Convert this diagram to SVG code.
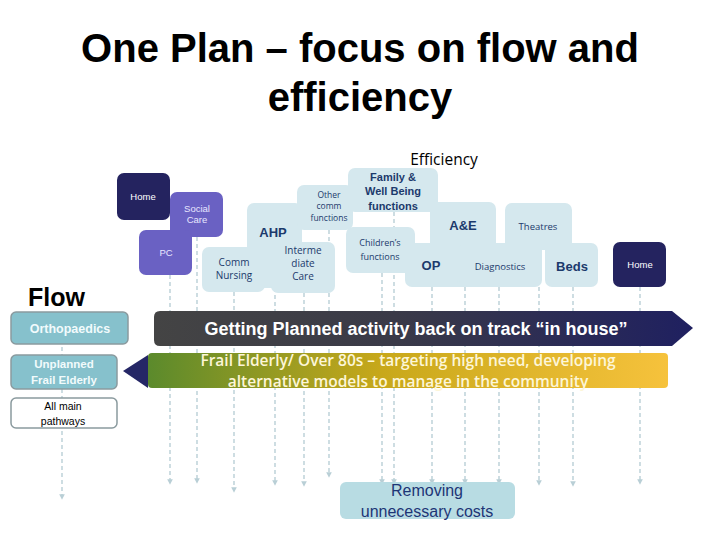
<svg xmlns="http://www.w3.org/2000/svg" width="720" height="540" viewBox="0 0 720 540">
<defs>
<style>
.lb{fill:#d5e8ee}
.dk{fill:#24235f}
.pu{fill:#6a61c3}
.t{font-family:"Liberation Sans",Arial,sans-serif;text-anchor:middle}
.c{font-family:"Open Sans","Liberation Sans",sans-serif;text-anchor:middle}
.nv{fill:#1c3a6c}
.wt{fill:#ffffff}
.fl{stroke:#b9cfd6;stroke-width:1.4;stroke-dasharray:4 3;fill:none;marker-end:url(#m)}
.side{stroke:#8a9a9e;stroke-width:1.5}
</style>
<marker id="m" viewBox="0 0 6 6" refX="3" refY="3" markerWidth="4" markerHeight="4" orient="auto">
<path d="M0,0 L6,3 L0,6 z" fill="#b9cfd6"/>
</marker>
<linearGradient id="g1" x1="0" y1="0" x2="1" y2="0">
<stop offset="0" stop-color="#444444"/>
<stop offset="0.45" stop-color="#3a3a48"/>
<stop offset="1" stop-color="#1f2060"/>
</linearGradient>
<linearGradient id="g2" x1="0" y1="0" x2="1" y2="0">
<stop offset="0" stop-color="#5b8a2c"/>
<stop offset="0.45" stop-color="#c8a81a"/>
<stop offset="1" stop-color="#f6c23c"/>
</linearGradient>
</defs>
<rect width="720" height="540" fill="#ffffff"/>
<text class="t" x="360" y="62" font-size="40" font-weight="bold" fill="#000">One Plan – focus on flow and</text>
<text class="t" x="360" y="111" font-size="40" font-weight="bold" fill="#000">efficiency</text>
<text class="c" x="444" y="165" font-size="15.5" fill="#000">Efficiency</text>
<text x="28" y="306" font-family="Liberation Sans,Arial,sans-serif" font-size="25" font-weight="bold" fill="#000">Flow</text>

<g id="connectors">
<path class="fl" d="M62,312 V497"/>
<path class="fl" d="M170,275 V482"/>
<path class="fl" d="M197,237 V481"/>
<path class="fl" d="M234,292 V490"/>
<path class="fl" d="M275,288 V483"/>
<path class="fl" d="M304,293 V484"/>
<path class="fl" d="M329,230 V475"/>
<path class="fl" d="M382,273 V482"/>
<path class="fl" d="M394,212 V482"/>
<path class="fl" d="M432,287 V482"/>
<path class="fl" d="M465,287 V482"/>
<path class="fl" d="M499,287 V482"/>
<path class="fl" d="M539,287 V483"/>
<path class="fl" d="M573,287 V484"/>
<path class="fl" d="M640,287 V482"/>
</g>

<g id="home-left"><rect class="dk" x="117" y="173" width="53" height="47" rx="7"/><text class="t wt" x="143" y="200" font-size="9.5">Home</text></g>
<g id="social-care"><rect class="pu" x="170" y="192" width="53" height="45" rx="7"/><text class="t" x="197" y="212" font-size="9.5" fill="#e8e6ff">Social</text><text class="t" x="197" y="223" font-size="9.5" fill="#e8e6ff">Care</text></g>
<g id="pc"><rect class="pu" x="139" y="230" width="53" height="45" rx="7"/><text class="t" x="166" y="256" font-size="9.5" fill="#e8e6ff">PC</text></g>
<g id="ahp"><rect class="lb" x="247" y="203" width="55" height="85" rx="7"/><text class="t nv" x="273" y="237" font-size="13" font-weight="bold">AHP</text></g>
<g id="comm-nursing"><rect class="lb" x="202" y="247" width="63" height="45" rx="7"/><text class="c nv" x="234" y="266" font-size="10">Comm</text><text class="c nv" x="234" y="279" font-size="10">Nursing</text></g>
<g id="intermediate"><rect class="lb" x="271" y="242" width="64" height="51" rx="7"/><text class="c nv" x="303" y="254" font-size="10">Interme</text><text class="c nv" x="303" y="267" font-size="10">diate</text><text class="c nv" x="303" y="280" font-size="10">Care</text></g>
<g id="other-comm"><rect class="lb" x="297" y="185" width="56" height="45" rx="7"/><text class="c nv" x="329" y="198" font-size="8.5">Other</text><text class="c nv" x="329" y="209" font-size="8.5">comm</text><text class="c nv" x="329" y="221" font-size="8.5">functions</text></g>
<g id="family"><rect class="lb" x="348" y="168" width="90" height="44" rx="7"/><text class="t nv" x="393" y="181" font-size="11" font-weight="bold">Family &amp;</text><text class="t nv" x="393" y="195" font-size="11" font-weight="bold">Well Being</text><text class="t nv" x="393" y="210" font-size="11" font-weight="bold">functions</text></g>
<g id="childrens"><rect class="lb" x="346" y="227" width="69" height="46" rx="7"/><text class="c nv" x="380" y="246" font-size="9">Children’s</text><text class="c nv" x="380" y="260" font-size="9">functions</text></g>
<g id="ae"><rect class="lb" x="430" y="202" width="66" height="85" rx="7"/><text class="t nv" x="463" y="230" font-size="13" font-weight="bold">A&amp;E</text></g>
<g id="theatres"><rect class="lb" x="505" y="203" width="67" height="47" rx="7"/><text class="c nv" x="538" y="230" font-size="9.5">Theatres</text></g>
<g id="op"><rect class="lb" x="405" y="243" width="53" height="44" rx="7"/><text class="t nv" x="431" y="270" font-size="13" font-weight="bold">OP</text></g>
<g id="diagnostics"><rect class="lb" x="459" y="243" width="83" height="44" rx="7"/><text class="c nv" x="500" y="270" font-size="9.5">Diagnostics</text></g>
<g id="beds"><rect class="lb" x="545" y="243" width="53" height="44" rx="7"/><text class="t nv" x="572" y="271" font-size="13" font-weight="bold">Beds</text></g>
<g id="home-right"><rect class="dk" x="613" y="242" width="53" height="45" rx="7"/><text class="t wt" x="640" y="268" font-size="9.5">Home</text></g>

<g id="orthopaedics"><rect x="11" y="312" width="117" height="32" rx="5" fill="#86c1cc" class="side"/><text class="t" x="70" y="333" font-size="12.5" font-weight="bold" fill="#f2fbfc">Orthopaedics</text></g>
<g id="unplanned"><rect x="11" y="355" width="106" height="34" rx="5" fill="#86c1cc" class="side"/><text class="t" x="64" y="368" font-size="11.5" font-weight="bold" fill="#f2fbfc">Unplanned</text><text class="t" x="64" y="384" font-size="11.5" font-weight="bold" fill="#f2fbfc">Frail Elderly</text></g>
<g id="all-main"><rect x="11" y="398" width="106" height="30" rx="5" fill="#ffffff" class="side"/><text class="t" x="63" y="410" font-size="10.5" fill="#000">All main</text><text class="t" x="63" y="425" font-size="10.5" fill="#000">pathways</text></g>

<g id="planned">
<path d="M160,311 H672 L693,328 L672,346 H160 Q154,346 154,340 V317 Q154,311 160,311 Z" fill="url(#g1)"/>
<text class="t wt" x="416" y="335" font-size="18" font-weight="bold">Getting Planned activity back on track “in house”</text>
</g>
<g id="frail">
<rect x="148" y="353" width="520" height="35" rx="4" fill="url(#g2)"/>
<path d="M123,371 L148,355 V388 Z" fill="#252766"/>
<text class="c" x="408" y="366" font-size="15.5" font-weight="600" fill="#fdf6d8">Frail Elderly/ Over 80s – targeting high need, developing</text>
<text class="c" x="408" y="387" font-size="15.5" font-weight="600" fill="#fdf6d8">alternative models to manage in the community</text>
</g>

<g id="removing"><rect x="340" y="482" width="175" height="37" rx="6" fill="#b8dce3"/><text class="t" x="427" y="496" font-size="16" fill="#1d3576">Removing</text><text class="t" x="427" y="517" font-size="16" fill="#1d3576">unnecessary costs</text></g>
</svg>
